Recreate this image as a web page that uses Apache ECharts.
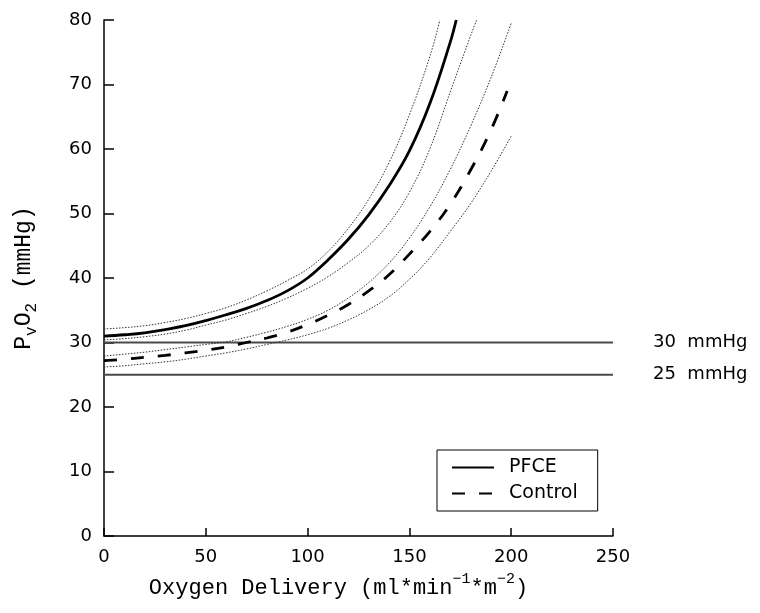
<!DOCTYPE html>
<html><head><meta charset="utf-8">
<script src="https://cdn.jsdelivr.net/npm/echarts@6/dist/echarts.min.js"></script>
<style>html,body{margin:0;padding:0;background:#fff}#c{width:760px;height:613px}</style>
</head><body><div id="c"></div>
<script>
// ---- data ----
const xMin = 0, xMax = 250, xStep = 50;
const yMin = 0, yMax = 80, yStep = 10;

const pfceMeanX = [0,10,20,30,40,50,60,70,80,90,100,110,120,130,140,150,160,170,173];
const pfceMeanY = [31.0,31.2,31.5,32.0,32.6,33.4,34.3,35.3,36.5,38.0,40.0,42.8,46.0,49.8,54.3,59.7,67.0,76.5,80.0];

const pfceUpperX = [0,10,20,30,40,50,60,70,80,90,100,110,120,130,140,150,160,165];
const pfceUpperY = [32.1,32.3,32.6,33.1,33.7,34.5,35.4,36.6,38.0,39.6,41.4,44.1,47.7,52.2,57.9,65.3,74.3,80.0];

const pfceLowerX = [0,10,20,30,40,50,60,70,80,90,100,110,120,130,140,150,160,170,180,183];
const pfceLowerY = [30.4,30.6,30.9,31.3,31.9,32.7,33.5,34.5,35.6,36.9,38.4,40.2,42.4,45.0,48.5,53.3,60.0,68.8,77.5,80.0];

const ctrlMeanX = [0,10,20,30,40,50,60,70,80,90,100,110,120,130,140,150,160,170,180,190,198];
const ctrlMeanY = [27.2,27.4,27.7,28.0,28.4,28.8,29.3,30.0,30.7,31.6,32.8,34.2,35.9,38.0,40.5,43.7,47.2,51.4,56.7,62.9,69.0];

const ctrlUpperX = [0,10,20,30,40,50,60,70,80,90,100,110,120,130,140,150,160,170,180,190,200];
const ctrlUpperY = [27.9,28.2,28.5,28.9,29.3,29.7,30.1,30.8,31.6,32.5,33.6,35.0,36.9,39.3,42.3,46.2,51.0,56.8,63.5,71.0,79.5];

const ctrlLowerX = [0,10,20,30,40,50,60,70,80,90,100,110,120,130,140,150,160,170,180,190,200];
const ctrlLowerY = [26.2,26.4,26.7,27.0,27.4,27.9,28.4,29.0,29.7,30.4,31.2,32.2,33.5,35.1,37.1,39.8,43.1,47.2,51.5,56.5,62.0];

const refX = [0, 250];
const ref30Y = [30, 30];
const ref25Y = [25, 25];
const ref30Label = '30  mmHg';
const ref25Label = '25  mmHg';

const legendNames = ['PFCE', 'Control'];

// ---- build ----
function pairs(xs, ys) { return xs.map((x, i) => [x, ys[i]]); }

const sansFont = 'DejaVu Sans';
const titleFont = 'Liberation Mono';

const bandStyle = { color: '#333', width: 1, type: [1.5, 1.5] };

function band(name, xs, ys) {
  return { name, type: 'line', data: pairs(xs, ys), symbol: 'none', smooth: 0.4,
    lineStyle: bandStyle, silent: true, z: 2 };
}
function refLine(name, xs, ys, label) {
  return { name, type: 'line', data: pairs(xs, ys), symbol: 'none', silent: true, z: 1,
    lineStyle: { color: '#4a4a4a', width: 2 },
    endLabel: { show: true, formatter: label, distance: 40, color: '#000', fontSize: 18, fontFamily: sansFont } };
}

const chart = echarts.init(document.getElementById('c'), null, { renderer: 'canvas' });
chart.setOption({
  animation: false,
  backgroundColor: '#fff',
  grid: { left: 103, right: 147, top: 20, bottom: 77 },
  legend: {
    data: legendNames,
    orient: 'vertical',
    left: 437, top: 450,
    padding: [8, 20, 8, 14],
    itemGap: 7,
    itemWidth: 42, itemHeight: 14,
    borderColor: '#000', borderWidth: 1, borderRadius: 0,
    itemStyle: { opacity: 0 },
    textStyle: { fontSize: 19, fontFamily: sansFont, color: '#000', padding: [0, 0, 0, 10] },
    selectedMode: false
  },
  xAxis: {
    type: 'value', min: xMin, max: xMax, interval: xStep,
    axisLine: { lineStyle: { color: '#000', width: 1.5 } },
    axisTick: { inside: true, length: 8, lineStyle: { color: '#000', width: 1.5 } },
    axisLabel: { fontSize: 18, fontFamily: sansFont, color: '#000', margin: 12 },
    splitLine: { show: false },
    name: 'Oxygen Delivery (ml*min{sup|−1}*m{sup|−2})',
    nameLocation: 'middle', nameGap: 36,
    nameTextStyle: { fontSize: 22, fontFamily: titleFont, color: '#000', lineHeight: 32, padding: [0, 40, 0, 0],
      rich: { sup: { fontSize: 15, fontFamily: titleFont, color: '#000', verticalAlign: 'top', lineHeight: 15 } } }
  },
  yAxis: {
    type: 'value', min: yMin, max: yMax, interval: yStep,
    axisLine: { show: true, lineStyle: { color: '#000', width: 1.5 } },
    axisTick: { show: true, inside: true, length: 10, lineStyle: { color: '#000', width: 1.5 } },
    axisLabel: { fontSize: 18, fontFamily: sansFont, color: '#000', margin: 12 },
    splitLine: { show: false },
    name: 'P{sub|v}O{sub|2} (mmHg)',
    nameLocation: 'middle', nameGap: 64,
    nameTextStyle: { fontSize: 23, fontFamily: titleFont, color: '#000', lineHeight: 32,
      rich: { sub: { fontSize: 16, fontFamily: titleFont, color: '#000', verticalAlign: 'bottom', lineHeight: 16 } } }
  },
  series: [
    refLine('ref30', refX, ref30Y, ref30Label),
    refLine('ref25', refX, ref25Y, ref25Label),
    band('PFCE upper', pfceUpperX, pfceUpperY),
    band('PFCE lower', pfceLowerX, pfceLowerY),
    band('Control upper', ctrlUpperX, ctrlUpperY),
    band('Control lower', ctrlLowerX, ctrlLowerY),
    { name: 'PFCE', type: 'line', data: pairs(pfceMeanX, pfceMeanY), symbol: 'none', smooth: 0.4,
      lineStyle: { color: '#000', width: 2.8 }, itemStyle: { color: '#000' }, z: 3 },
    { name: 'Control', type: 'line', data: pairs(ctrlMeanX, ctrlMeanY), symbol: 'none', smooth: 0.4,
      lineStyle: { color: '#000', width: 2.8, type: [13, 14] }, itemStyle: { color: '#000' }, z: 3 }
  ]
});
</script></body></html>
